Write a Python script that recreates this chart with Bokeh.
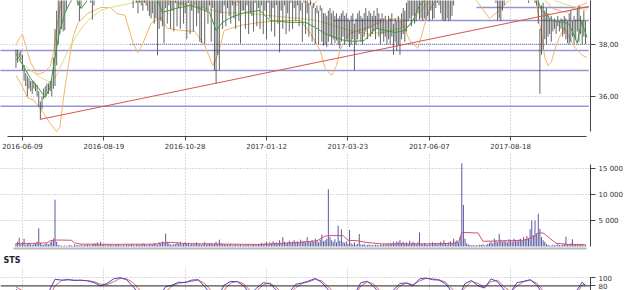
from bokeh.plotting import figure
from bokeh.layouts import column
from bokeh.models import Range1d, FixedTicker, Span, ColumnDataSource
from bokeh.embed import file_html
from bokeh.resources import INLINE

FONT = "DejaVu Sans"

# ---------------- data ----------------
tick_idx = [4, 54, 104, 154, 204, 254, 304]
tick_labels = ["2016-06-09", "2016-08-19", "2016-10-28", "2017-01-12",
               "2017-03-23", "2017-06-07", "2017-08-18"]

lows = [
    37.1, 37.3, 37.5, 37.4, 37.0, 36.6, 36.4, 36.0, 36.3, 36.2,
    36.1, 36.3, 36.2, 36.0, 35.6, 35.12, 35.5, 35.9, 36.0, 36.1,
    36.1, 36.2, 36.0, 36.3, 36.4, 37.2, 38.0, 38.4, 38.6, 38.5,
    38.55, 39.3, 39.8, 39.9, 40.0, 39.9, 39.8, 39.7, 39.5, 38.9,
    39.4, 39.8, 39.9, 40.0, 39.9, 39.8, 39.6, 38.95, 39.5, 39.9,
    40.0, 40.1, 40.0, 40.2, 40.1, 40.0, 39.9, 40.0, 40.1, 40.0,
    40.0, 39.9, 40.0, 40.1, 39.9, 39.8, 39.9, 40.0, 39.8, 39.7,
    39.8, 39.7, 39.4, 39.7, 39.6, 39.2, 39.6, 39.5, 39.3, 39.6,
    39.5, 39.3, 39.1, 39.0, 39.2, 38.8, 39.0, 37.58, 38.6, 38.9,
    38.7, 38.05, 39.4, 38.8, 39.5, 38.6, 39.3, 38.5, 39.6, 38.7,
    39.4, 38.6, 39.5, 38.8, 39.2, 38.2, 39.6, 38.4, 39.3, 38.5,
    39.5, 38.7, 39.2, 38.1, 38.05, 39.4, 38.02, 39.3, 38.8, 39.5,
    38.1, 39.4, 37.0, 36.5, 37.6, 37.0, 39.2, 38.6, 39.5, 38.7,
    39.4, 39.1, 38.8, 39.5, 39.0, 38.6, 39.6, 38.9, 38.04, 39.3,
    39.3, 38.6, 39.5, 38.4, 39.2, 39.1, 38.5, 39.6, 38.7, 39.4,
    38.6, 39.5, 38.4, 39.3, 38.2, 39.6, 39.0, 38.5, 39.4, 38.3,
    39.5, 38.8, 37.7, 39.3, 38.6, 39.5, 38.4, 39.2, 38.5, 39.6,
    38.6, 39.4, 38.9, 39.5, 38.7, 39.3, 38.1, 39.6, 38.4, 39.2,
    38.3, 39.5, 38.1, 39.4, 38.02, 39.2, 38.0, 39.3, 38.1, 37.95,
    38.0, 37.9, 38.1, 38.3, 38.0, 38.2, 38.05, 38.15, 38.0, 37.85,
    38.1, 38.3, 38.0, 38.2, 38.1, 37.9, 38.0, 38.2, 37.0, 38.0,
    38.2, 38.4, 38.1, 38.0, 38.3, 38.5, 38.2, 38.6, 38.3, 38.4,
    38.5, 38.2, 38.6, 38.3, 38.0, 38.4, 38.1, 38.3, 38.0, 38.2,
    38.0, 38.3, 37.6, 38.1, 37.75, 38.0, 37.6, 38.2, 38.4, 38.1,
    38.5, 38.9, 39.0, 38.7, 39.1, 38.8, 38.9, 39.2, 38.95, 39.0,
    38.9, 39.0, 38.95, 39.1, 38.9, 39.3, 38.95, 39.0, 39.4, 39.6,
    39.5, 39.2, 38.95, 38.9, 38.92, 39.0, 38.9, 38.95, 39.1, 39.5,
    39.8, 39.9, 40.0, 39.9, 39.7, 39.8, 40.0, 40.1, 39.9, 40.0,
    40.0, 40.1, 39.9, 40.0, 39.8, 39.9, 40.0, 39.8, 39.9, 40.1,
    39.9, 39.8, 40.0, 39.9, 39.7, 39.6, 38.92, 39.0, 38.9, 39.3,
    39.5, 39.8, 39.9, 40.0, 39.9, 39.8, 39.7, 39.9, 40.0, 39.8,
    39.9, 39.8, 39.7, 39.9, 39.8, 39.6, 39.7, 39.9, 39.8, 39.6,
    39.5, 38.8, 36.1, 37.6, 37.8, 38.2, 38.0, 38.3, 38.4, 38.1,
    38.5, 38.6, 38.4, 38.7, 38.5, 38.6, 38.3, 38.4, 38.2, 38.05,
    38.0, 38.1, 38.3, 38.02, 38.2, 38.5, 38.1, 38.4, 38.0, 38.3, 38.02,
]

highs = [
    37.8, 37.8, 37.7, 37.75, 37.6, 37.2, 36.9, 36.8, 36.7, 36.6,
    36.6, 36.6, 36.5, 36.45, 36.2, 35.8, 36.0, 36.3, 36.4, 36.5,
    36.5, 36.6, 36.6, 37.5, 38.6, 39.3, 39.9, 40.2, 40.4, 40.3,
    40.6, 40.8, 41.0, 40.9, 41.1, 40.8, 40.7, 40.9, 40.6, 40.5,
    40.7, 40.9, 41.0, 40.8, 40.9, 40.7, 40.6, 40.4, 40.8, 40.9,
    41.0, 41.1, 40.9, 41.2, 41.0, 40.9, 40.8, 41.0, 41.1, 40.9,
    40.9, 40.8, 41.0, 41.0, 40.8, 40.7, 40.9, 40.9, 40.7, 40.6,
    40.7, 40.6, 40.5, 40.6, 40.5, 40.4, 40.6, 40.5, 40.4, 40.5,
    40.4, 40.3, 40.3, 40.2, 40.4, 40.2, 40.3, 40.1, 40.2, 40.3,
    40.2, 40.1, 40.2, 40.3, 40.1, 40.2, 40.0, 40.1, 40.0, 40.2,
    40.1, 40.2, 40.0, 40.3, 40.1, 40.0, 40.2, 40.1, 40.3, 40.1,
    40.0, 40.2, 40.1, 39.9, 40.0, 40.2, 39.9, 40.0, 40.2, 40.1,
    40.0, 39.9, 39.8, 39.7, 39.9, 39.8, 40.0, 40.1, 40.2, 40.1,
    40.2, 40.3, 40.1, 40.0, 40.2, 40.1, 40.3, 40.2, 39.9, 40.1,
    40.3, 40.0, 40.2, 39.9, 40.1, 40.2, 40.0, 40.1, 40.0, 39.9,
    40.0, 40.2, 39.9, 40.1, 39.8, 40.0, 40.2, 39.9, 40.0, 39.8,
    39.9, 40.1, 39.7, 39.8, 40.0, 40.1, 39.8, 40.0, 39.9, 40.0,
    39.9, 39.7, 40.0, 39.8, 39.9, 39.7, 39.6, 39.8, 39.7, 39.9,
    39.6, 39.7, 39.5, 39.6, 39.4, 39.5, 39.3, 39.5, 39.4, 39.2,
    39.2, 39.1, 39.3, 39.4, 39.2, 39.3, 39.1, 39.2, 39.0, 39.1,
    39.2, 39.3, 39.1, 39.2, 39.0, 38.9, 39.1, 39.2, 38.8, 39.0,
    39.2, 39.3, 39.1, 39.0, 39.2, 39.4, 39.1, 39.3, 39.2, 39.1,
    39.3, 39.1, 39.4, 39.2, 39.0, 39.2, 39.0, 39.1, 38.9, 39.1,
    39.0, 39.2, 38.8, 39.0, 38.9, 39.1, 38.9, 39.2, 39.4, 39.3,
    39.6, 39.9, 40.1, 40.0, 40.3, 40.1, 40.2, 40.4, 40.2, 40.3,
    40.2, 40.4, 40.3, 40.5, 40.3, 40.6, 40.4, 40.5, 40.7, 40.8,
    40.7, 40.5, 40.3, 40.2, 40.4, 40.5, 40.3, 40.4, 40.6, 40.8,
    40.9, 41.0, 41.1, 41.0, 40.9, 41.0, 41.2, 41.3, 41.1, 41.2,
    41.2, 41.3, 41.1, 41.2, 41.0, 41.1, 41.2, 41.0, 41.1, 41.3,
    41.1, 41.0, 41.2, 41.1, 40.9, 40.8, 40.3, 40.4, 40.2, 40.6,
    40.8, 41.0, 41.1, 41.2, 41.1, 41.0, 40.9, 41.1, 41.2, 41.0,
    41.1, 41.0, 40.9, 41.1, 41.0, 40.8, 40.9, 41.1, 41.0, 40.8,
    40.6, 39.9, 38.6, 39.5, 39.6, 39.3, 39.4, 39.2, 39.0, 39.1,
    38.9, 39.0, 38.9, 39.1, 38.9, 39.0, 38.95, 39.1, 39.0, 38.9,
    39.2, 39.3, 38.9, 39.1, 38.95, 39.4, 39.5, 39.1, 38.9, 39.3, 38.9,
]

ma_short_idx = [0, 5, 9, 14, 18, 21, 23, 25, 27, 30, 33, 36, 40, 43, 46, 55, 65, 75,
                81, 86, 90, 98, 107, 113, 119, 123, 127, 132, 141, 150, 156, 168,
                178, 184, 190, 196, 202, 208, 214, 221, 227, 233, 239, 244, 248,
                254, 263, 273, 285, 300, 312, 319, 323, 326, 329, 332, 337, 340,
                343, 345, 346, 348, 349, 351]
ma_short = [37.65, 37.12, 36.69, 36.31, 35.96, 36.35, 37.12, 37.88, 38.54, 39.19,
            39.58, 39.88, 39.38, 39.62, 40.08, 40.3, 40.4, 40.2, 40.0, 39.88,
            39.23, 39.38, 39.5, 39.38, 39.23, 38.54, 38.85, 39.04, 39.23, 39.31,
            38.92, 38.85, 38.85, 38.65, 38.42, 38.27, 38.15, 38.12, 38.15, 38.62,
            38.54, 38.46, 38.54, 38.92, 39.5, 39.88, 39.77, 40.1, 40.3, 40.2,
            40.3, 40.0, 39.31, 39.15, 38.96, 38.88, 38.85, 38.77, 38.35, 38.04,
            38.42, 38.92, 38.62, 38.27]

ma_long_idx = [0, 3, 9, 15, 21, 25, 32, 38, 44, 52, 58, 64, 73, 83, 92, 101, 113,
               126, 144, 154, 175, 185, 195, 205, 216, 226, 236, 242, 248, 254,
               270, 290, 310, 328, 334, 340, 351]
ma_long = [37.46, 37.31, 37.0, 36.73, 36.54, 36.81, 37.77, 38.42, 38.92, 39.31,
           39.42, 39.5, 39.62, 39.73, 39.69, 39.58, 39.42, 39.23, 39.19, 39.12,
           39.0, 38.92, 38.73, 38.54, 38.42, 38.46, 38.62, 38.73, 39.23, 39.69,
           40.0, 40.2, 40.0, 39.77, 39.62, 39.5, 39.31]

band_low_idx = [0, 3, 7, 11, 17, 21, 25, 27, 29, 32, 35, 38, 44, 52, 58, 62, 67,
                72, 75, 78, 83, 89, 93, 101, 110, 116, 121, 124, 128, 138, 150,
                162, 175, 181, 187, 190, 194, 197, 199, 205, 216, 226, 236, 242,
                247, 251, 254, 260, 273, 283, 291, 297, 303, 310, 319, 323, 325,
                327, 329, 331, 334, 337, 339, 342, 345, 348, 351]
band_low = [36.81, 36.5, 35.96, 35.85, 35.35, 34.96, 34.65, 34.81, 35.85, 37.12,
            38.27, 38.81, 39.19, 39.42, 39.42, 39.19, 39.12, 38.04, 37.69, 38.04,
            38.81, 39.04, 38.62, 38.54, 38.5, 37.96, 37.19, 37.58, 38.54, 38.73,
            38.85, 38.92, 38.92, 38.42, 37.77, 37.08, 36.81, 37.19, 37.77, 38.42,
            38.65, 38.92, 39.0, 38.15, 37.85, 38.73, 39.31, 39.88, 40.08, 39.69,
            39.0, 39.31, 39.69, 39.88, 39.88, 38.42, 37.5, 37.19, 37.31, 37.77,
            38.27, 38.65, 38.42, 38.04, 37.77, 37.58, 37.5]

band_up_idx = [0, 2, 4, 6, 9, 13, 17, 21, 23, 25, 27, 30, 40, 64, 83, 101, 113,
               128, 136, 141, 162, 175, 183, 187, 199, 224, 248, 273, 297, 316,
               324, 330, 338, 346, 351]
band_up = [37.96, 38.23, 38.38, 37.96, 37.31, 36.85, 36.92, 37.15, 37.69, 38.62,
           39.38, 40.27, 40.85, 40.65, 40.46, 40.27, 40.08, 39.88, 39.5, 40.0,
           40.15, 40.08, 39.5, 39.88, 40.46, 40.27, 40.08, 40.46, 40.27, 40.08,
           39.77, 39.38, 39.23, 39.46, 39.62]

level_price = [37.77, 37.0, 35.62, 38.92, 39.42]
level_start = [-10, -10, -10, 195, 283]
pivot_price = 38.0
pivot_start = 70
level_end = 352

trend_idx = [15, 352]
trend_price = [35.12, 39.46]

volume = [
    600, 900, 1700, 400, 800, 1500, 300, 500, 700, 400,
    300, 600, 500, 900, 3500, 700, 400, 300, 500, 600,
    400, 800, 1000, 1500, 9000, 900, 300, 200, 150, 100,
    200, 100, 150, 300, 200, 100, 400, 250, 300, 200,
    350, 200, 300, 250, 400, 300, 200, 350, 600, 500,
    800, 400, 900, 300, 500, 200, 300, 250, 400, 300,
    200, 350, 300, 450, 250, 200, 300, 200, 400, 300,
    250, 500, 300, 200, 400, 350, 250, 300, 600, 400,
    300, 200, 500, 400, 350, 700, 500, 300, 800, 600,
    1000, 700, 2500, 900, 600, 400, 300, 500, 400, 700,
    500, 900, 400, 600, 800, 500, 700, 300, 600, 400,
    500, 800, 400, 600, 300, 500, 900, 400, 600, 500,
    700, 400, 600, 900, 500, 1300, 600, 400, 500, 300,
    400, 300, 500, 200, 300, 400, 250, 300, 350, 200,
    300, 250, 400, 300, 200, 350, 300, 400, 250, 300,
    500, 700, 400, 600, 900, 500, 800, 600, 1000, 700,
    800, 600, 1200, 700, 1800, 900, 600, 800, 1100, 700,
    900, 1200, 800, 1000, 700, 1300, 900, 1100, 800, 1800,
    1000, 800, 1200, 900, 1500, 1100, 800, 1300, 2300, 1000,
    1200, 1500, 11000, 1800, 1200, 900, 1400, 800, 4000, 1100,
    3300, 900, 700, 1000, 500, 3200, 600, 400, 800, 300,
    500, 2400, 400, 300, 500, 200, 300, 400, 250, 300,
    200, 350, 300, 200, 400, 300, 500, 350, 600, 400,
    700, 500, 900, 600, 1000, 800, 1200, 700, 900, 600,
    800, 500, 1100, 600, 900, 700, 500, 800, 2700, 600,
    400, 700, 500, 300, 600, 400, 800, 500, 700, 400,
    600, 900, 500, 1200, 700, 400, 800, 1000, 600, 1500,
    900, 1200, 700, 1800, 16000, 8000, 1500, 600, 400, 300,
    200, 300, 150, 250, 200, 350, 300, 400, 200, 300,
    500, 700, 900, 600, 1500, 1100, 800, 2400, 1300, 900,
    1200, 1000, 800, 1400, 1100, 900, 1500, 1200, 1000, 1300,
    1500, 1200, 1800, 1400, 2000, 1600, 3300, 5000, 2200, 5000,
    2500, 6300, 3400, 1800, 1200, 900, 500, 300, 200, 150,
    300, 200, 250, 400, 300, 200, 350, 500, 1900, 400,
    300, 600, 1400, 500, 300, 400, 250, 300, 500, 200, 300,
]

vol_ma_idx = [0, 10, 19, 21, 25, 34, 36, 40, 60, 85, 90, 95, 105, 130, 150, 160,
              175, 185, 190, 192, 201, 204, 210, 215, 225, 250, 268, 272, 274,
              284, 287, 300, 312, 318, 321, 324, 328, 332, 340, 350]
vol_ma = [550, 600, 700, 1100, 1250, 1200, 700, 450, 420, 450, 700, 800, 550,
          450, 400, 550, 800, 1100, 2000, 2100, 2100, 1200, 1100, 800, 500, 500,
          600, 800, 2700, 2600, 1000, 1100, 1200, 1800, 2600, 2600, 1600, 600,
          400, 350]

sts_idx = [0, 4, 8, 12, 16, 20, 24, 28, 32, 36, 40, 44, 48, 52, 56, 60, 64, 68,
           72, 76, 80, 84, 88, 92, 96, 100, 104, 108, 112, 116, 120, 124, 128,
           132, 136, 140, 144, 148, 152, 156, 160, 164, 168, 172, 176, 180, 184,
           188, 192, 196, 200, 204, 208, 212, 216, 220, 224, 228, 232, 236, 240,
           244, 248, 252, 256, 260, 264, 268, 272, 276, 280, 284, 288, 292, 296,
           300, 304, 308, 312, 316, 320, 324, 328, 332, 336, 340, 344, 348, 350]
sts_k = [72, 60, 50, 40, 45, 65, 96, 94, 95, 93, 94, 92, 88, 80, 86, 97, 100, 95,
         78, 60, 45, 40, 55, 78, 82, 89, 88, 94, 95, 78, 60, 55, 82, 91, 90, 80,
         60, 75, 88, 85, 70, 55, 65, 84, 87, 92, 98, 88, 70, 55, 45, 50, 60, 88,
         91, 78, 60, 55, 70, 86, 87, 80, 97, 99, 95, 94, 85, 65, 55, 86, 93, 80,
         75, 97, 90, 70, 65, 88, 91, 95, 82, 60, 40, 30, 35, 50, 65, 89, 80]
sts_d = [78, 68, 56, 46, 42, 52, 80, 93, 95, 94, 93, 93, 90, 84, 83, 90, 98, 97,
         88, 70, 52, 43, 47, 66, 80, 86, 89, 91, 94, 86, 68, 57, 70, 87, 91, 85,
         68, 68, 83, 87, 77, 60, 60, 76, 86, 90, 96, 92, 78, 62, 49, 48, 56, 80,
         90, 84, 67, 57, 63, 80, 87, 83, 92, 98, 97, 95, 89, 73, 58, 76, 91, 86,
         77, 90, 94, 78, 66, 80, 90, 94, 87, 68, 48, 33, 33, 44, 58, 82, 84]

# ---------------- styling helpers ----------------
N = len(lows)
bar_idx = list(range(N))
TXT = "#333333"
GRID = "#b4b4b4"
X_RANGE = (-9.5, 353.1)


def style_common(p):
    p.outline_line_color = None
    p.background_fill_color = "white"
    p.border_fill_color = "white"
    for ax in p.yaxis:
        ax.major_label_text_font = FONT
        ax.major_label_text_font_size = "7px"
        ax.major_label_text_color = TXT
        ax.axis_line_color = "#444444"
        ax.major_tick_line_color = "#444444"
        ax.major_tick_out = 5
        ax.major_tick_in = 0
        ax.minor_tick_line_color = None
        ax.major_label_standoff = 3
    p.xgrid.ticker = FixedTicker(ticks=tick_idx)
    p.xgrid.grid_line_color = GRID
    p.xgrid.grid_line_dash = "1 2"
    p.ygrid.grid_line_color = GRID
    p.ygrid.grid_line_dash = "1 2"


# ---------------- price panel ----------------
p1 = figure(width=625, height=152, title=None,
            x_range=Range1d(*X_RANGE), y_range=Range1d(34.46, 39.69),
            y_axis_location="right", toolbar_location=None, output_backend="svg",
            min_border_left=0, min_border_right=34, min_border_top=0,
            min_border_bottom=16)
style_common(p1)
p1.yaxis.ticker = FixedTicker(ticks=[36, 38])
p1.yaxis.major_label_overrides = {36: "36,00", 38: "38,00"}
p1.yaxis.bounds = (34.65, 40.5)
p1.ygrid.ticker = FixedTicker(ticks=[36, 38])
p1.xaxis.ticker = FixedTicker(ticks=tick_idx)
p1.xaxis.major_label_overrides = dict(zip(tick_idx, tick_labels))
p1.xaxis.major_label_text_font = FONT
p1.xaxis.major_label_text_font_size = "7px"
p1.xaxis.major_label_text_color = TXT
p1.xaxis.axis_line_color = "#444444"
p1.xaxis.axis_line_width = 1.2
p1.xaxis.major_tick_line_color = "#444444"
p1.xaxis.major_tick_out = 4
p1.xaxis.major_tick_in = 0
p1.xaxis.minor_tick_line_color = None
p1.xaxis.major_label_standoff = 2
p1.xaxis.bounds = (-5, 350.5)

# support / resistance levels
p1.segment(x0=level_start, y0=level_price, x1=[level_end] * len(level_price),
           y1=level_price, line_color="#9494d4", line_width=1.5)
p1.segment(x0=[pivot_start], y0=[pivot_price], x1=[level_end], y1=[pivot_price],
           line_color="#7777cc", line_width=1.2, line_dash="1 1")

# bands and moving averages
p1.line(band_low_idx, band_low, line_color="#f2b46a", line_width=1)
p1.line(band_up_idx, band_up, line_color="#f2b46a", line_width=1)
p1.line(ma_long_idx, ma_long, line_color="#e2db7a", line_width=1)

bars = ColumnDataSource(dict(x=bar_idx, lo=lows, hi=highs))
p1.segment(x0="x", y0="lo", x1="x", y1="hi", source=bars,
           line_color="#3e3e3e", line_width=0.8)

p1.line(ma_short_idx, ma_short, line_color="#3c9c3c", line_width=1)
p1.line(trend_idx, trend_price, line_color="#d9534f", line_width=1)

# ---------------- volume panel ----------------
p2 = figure(width=625, height=98, title=None,
            x_range=p1.x_range, y_range=Range1d(-384, 18077),
            y_axis_location="right", toolbar_location=None, output_backend="svg",
            min_border_left=0, min_border_right=34, min_border_top=0,
            min_border_bottom=2)
style_common(p2)
p2.yaxis.ticker = FixedTicker(ticks=[5000, 10000, 15000])
p2.yaxis.major_label_overrides = {5000: "5 000", 10000: "10 000", 15000: "15 000"}
p2.yaxis.bounds = (0, 15700)
p2.ygrid.ticker = FixedTicker(ticks=[5000, 10000, 15000])
p2.xaxis.ticker = FixedTicker(ticks=[])
p2.xaxis.major_label_standoff = 0
p2.xaxis.major_tick_line_color = None
p2.xaxis.major_tick_out = 0
p2.xaxis.minor_tick_line_color = None
p2.xaxis.axis_line_color = "#b8b8b8"
p2.xaxis.axis_line_width = 2
p2.xaxis.bounds = (-1.5, 350.5)

vsrc = ColumnDataSource(dict(x=bar_idx, v=volume, z=[0] * N))
p2.segment(x0="x", y0="z", x1="x", y1="v", source=vsrc,
           line_color="#5a5aa2", line_width=1)
p2.line(vol_ma_idx, vol_ma, line_color="#d4506e", line_width=1)

# ---------------- STS panel ----------------
p3 = figure(width=625, height=40, title="STS",
            x_range=p1.x_range, y_range=Range1d(68.9, 124.4),
            y_axis_location="right", toolbar_location=None, output_backend="svg",
            min_border_left=0, min_border_right=34, min_border_top=15,
            min_border_bottom=0)
style_common(p3)
p3.title.text_font = FONT
p3.title.text_font_size = "8px"
p3.title.text_font_style = "bold"
p3.title.text_color = "#222222"
p3.title.offset = 3
p3.title.standoff = 6
p3.xaxis.ticker = FixedTicker(ticks=[])
p3.xaxis.visible = False
p3.yaxis.ticker = FixedTicker(ticks=[80, 100])
p3.yaxis.bounds = (0, 100)
p3.ygrid.ticker = FixedTicker(ticks=[100])
p3.add_layout(Span(location=80, dimension="width", line_color="#222222",
                   line_width=1))
p3.line(sts_idx, sts_d, line_color="#e06a6a", line_width=1)
p3.line(sts_idx, sts_k, line_color="#4646c8", line_width=1)

layout = column(p1, p2, p3, spacing=0)
open("out.html", "w").write(file_html(layout, INLINE))
